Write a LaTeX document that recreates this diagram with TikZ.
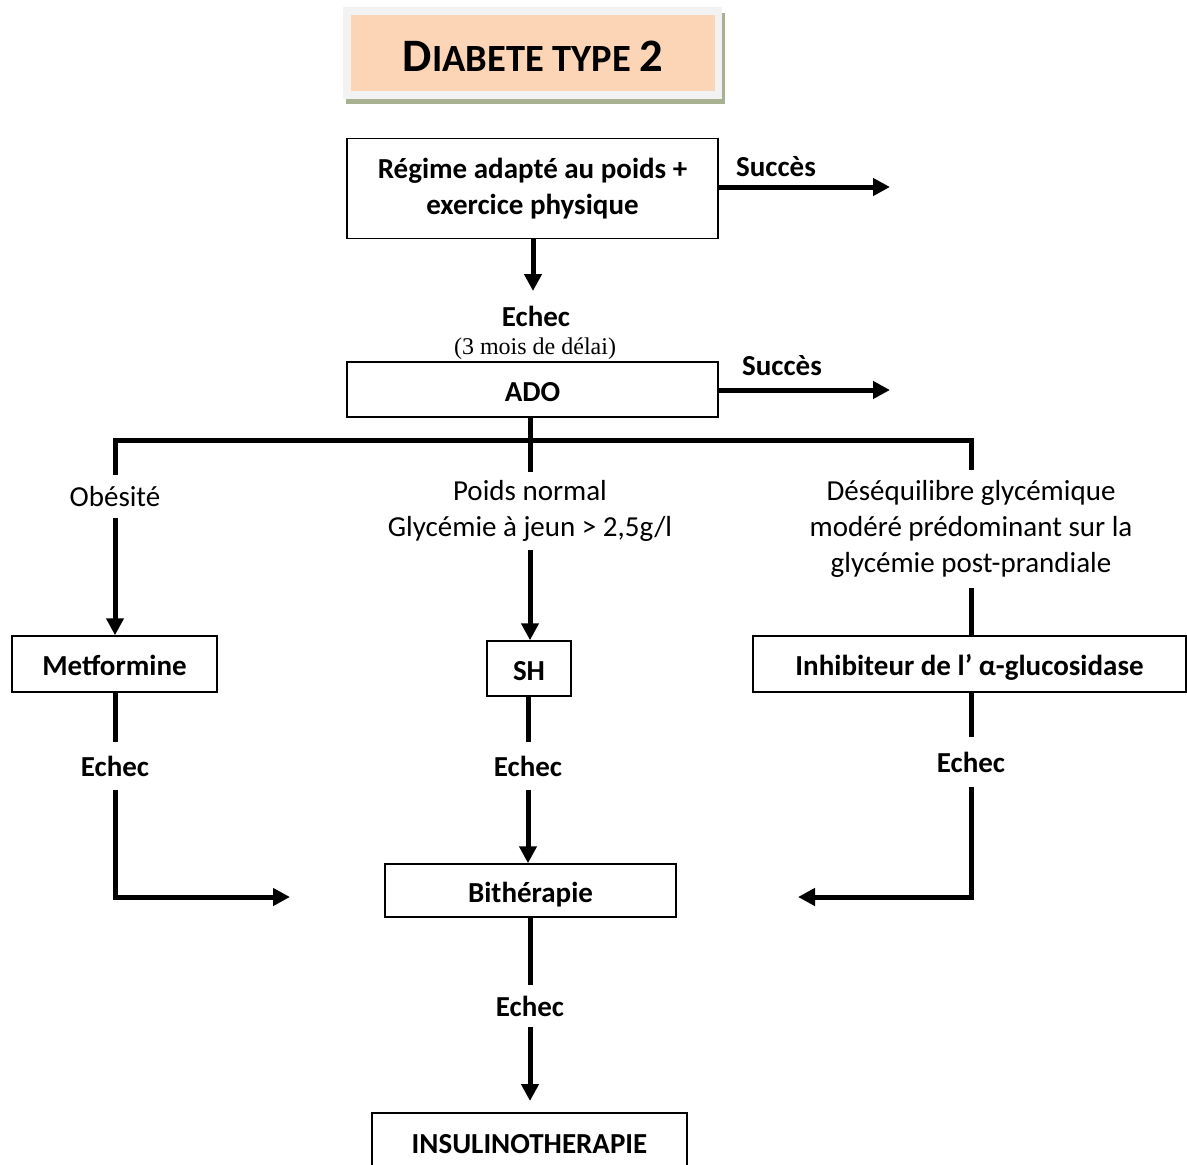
\documentclass[tikz,border=0pt]{standalone}
\usepackage{fontspec}
\setmainfont{Carlito}
\newfontfamily\timesfont{Liberation Serif}
\usetikzlibrary{arrows.meta}
\definecolor{peach}{HTML}{FBD5B5}
\definecolor{framegray}{HTML}{F2F2F2}
\definecolor{shadowolive}{HTML}{A8B293}
\begin{document}
\begin{tikzpicture}[x=1pt,y=-1pt,
 box/.style={draw, line width=1.5pt, inner sep=0pt, font=\bfseries\fontsize{29}{36}\selectfont, align=center},
 oneline/.style={text height=24pt, text depth=1pt},
 lab/.style={inner sep=0pt, font=\bfseries\fontsize{29}{36}\selectfont, align=center},
 cond/.style={inner sep=0pt, font=\fontsize{29}{36}\selectfont, align=center},
 conn/.style={line width=5pt},
 arr/.style={line width=5pt, -{Triangle[length=17pt,width=17pt]}},
 plate/.style={inner sep=0pt, anchor=north west},
]
\clip (0,0) rectangle (1187,1165);
\fill[white] (0,0) rectangle (1187,1165);

% title
\node[plate, fill=shadowolive, minimum width=379pt, minimum height=91pt] (shadow) at (346,13) {};
\node[plate, fill=framegray, minimum width=379pt, minimum height=92pt] (frame) at (343,7) {};
\node[plate, fill=peach, minimum width=364pt, minimum height=76pt] (plate) at (351,15) {};
\node[inner sep=0pt] (title) at (533,56) {\bfseries\fontsize{46.5}{50}\selectfont D\fontsize{38.5}{50}\selectfont IABETE TYPE \fontsize{46.5}{50}\selectfont 2};

% boxes
\node[box, minimum width=371pt, minimum height=100pt] (regime) at (532.5,188.5) {Régime adapté au poids +\\exercice physique};
\node[box, oneline, minimum width=371pt, minimum height=55pt] (ado) at (532.5,389.5) {ADO};
\node[box, oneline, minimum width=205pt, minimum height=56pt] (metf) at (114.5,664) {Metformine};
\node[box, oneline, minimum width=84pt, minimum height=55pt] (sh) at (529,668.5) {SH};
\node[box, oneline, minimum width=433pt, minimum height=56pt] (alpha) at (969.5,664) {Inhibiteur de l’ α-glucosidase};
\node[box, oneline, minimum width=291pt, minimum height=53pt] (bith) at (530.5,890.5) {Bithérapie};
\node[box, minimum width=315pt, minimum height=62pt, anchor=north] (insul) at (529.5,1112) {INSULINOTHERAPIE};

% labels
\node[lab] (succ1) at (776,167) {Succès};
\node[lab] (succ2) at (782,366) {Succès};
\node[lab] (echec0) at (536,316) {Echec};
\node[inner sep=0pt, font=\timesfont\fontsize{24}{28}\selectfont] (delai) at (535,349) {(3 mois de délai)};
\node[cond, minimum height=43pt] (obes) at (115,496.5) {Obésité};
\node[cond, minimum height=78pt] (poids) at (530,511) {Poids normal\\Glycémie à jeun > 2,5g/l};
\node[cond, minimum height=118pt] (desq) at (971,529) {Déséquilibre glycémique\\modéré prédominant sur la\\glycémie post-prandiale};
\node[lab, minimum height=47pt] (echecL) at (115,766) {Echec};
\node[lab, minimum height=48pt] (echecM) at (528,766) {Echec};
\node[lab, minimum height=50pt] (echecR) at (971,762) {Echec};
\node[lab, minimum height=42pt] (echecB) at (530,1006) {Echec};

% free ends
\coordinate (regTip) at (533,291);
\coordinate (s1) at (890,187);
\coordinate (s2) at (890,390);
\coordinate (bar) at (530,440);
\coordinate (bithL) at (290,897);
\coordinate (bithR) at (798,897);
\coordinate (insTip) at (530,1101);

% connectors
\draw[arr] (regime.south -| regTip) -- (regTip);
\draw[arr] (regime.east |- s1) -- (s1);
\draw[arr] (ado.east |- s2) -- (s2);
\draw[conn] (ado.south -| bar) -- (poids.north);
\draw[conn] (obes.north) |- (bar) -| (desq.north);
\draw[arr] (obes.south) -- (obes.south |- metf.north);
\draw[arr] (poids.south) -- (poids.south |- sh.north);
\draw[conn] (desq.south) -- (desq.south |- alpha.north);
\draw[conn] (metf.south -| echecL) -- (echecL.north);
\draw[arr] (echecL.south) |- (bithL);
\draw[conn] (sh.south -| echecM) -- (echecM.north);
\draw[arr] (echecM.south) -- (echecM.south |- bith.north);
\draw[conn] (alpha.south -| echecR) -- (echecR.north);
\draw[arr] (echecR.south) |- (bithR);
\draw[conn] (bith.south -| echecB) -- (echecB.north);
\draw[arr] (echecB.south) -- (insTip);
\end{tikzpicture}
\end{document}
